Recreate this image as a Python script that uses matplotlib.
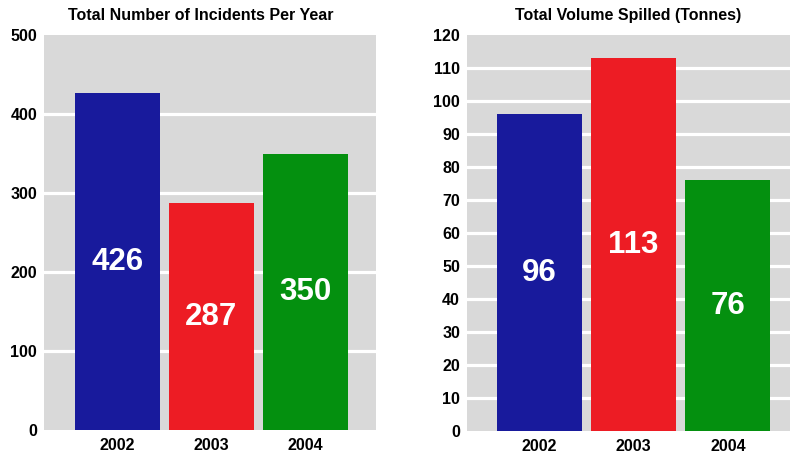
import matplotlib.pyplot as plt

plt.rcParams["font.family"] = ["Liberation Sans", "DejaVu Sans"]
plt.rcParams["font.weight"] = "bold"

years = ["2002", "2003", "2004"]
incidents = [426, 287, 350]
volume = [96, 113, 76]
colors = ["#181a9c", "#ed1c24", "#04900f"]

fig = plt.figure(figsize=(7.9, 4.59), dpi=100)
ax1 = fig.add_axes([44 / 790, 1 - 430 / 459, 332 / 790, 395 / 459])
ax2 = fig.add_axes([467 / 790, 1 - 431 / 459, 323 / 790, 396 / 459])


def draw_panel(ax, values, title, ymax, step, xlim, title_x):
    x = range(len(years))
    ax.set_facecolor("#d9d9d9")
    ax.bar(x, values, width=0.904, color=colors, zorder=3)
    for xi, v in zip(x, values):
        ax.text(xi, v / 2, str(v), ha="center", va="center", color="white",
                fontsize=22.5, fontweight="bold", zorder=4)
    ax.set_ylim(0, ymax)
    ax.set_xlim(*xlim)
    ax.set_yticks(range(0, ymax + 1, step))
    for y in range(step, ymax, step):
        ax.axhline(y, color="white", lw=2.3, zorder=1)
    ax.set_xticks(list(x))
    ax.set_xticklabels(years)
    ax.tick_params(length=0, labelsize=11.5, pad=5)
    ax.tick_params(axis="x", pad=6)
    for s in ax.spines.values():
        s.set_visible(False)
    ax.set_title(title, fontsize=11.5, fontweight="bold", pad=11, x=title_x)


draw_panel(ax1, incidents, "Total Number of Incidents Per Year", 500, 100, (-0.78, 2.75), 0.473)
draw_panel(ax2, volume, "Total Volume Spilled (Tonnes)", 120, 10, (-0.77, 2.66), 0.5)

fig.savefig("out.png", dpi=100)
